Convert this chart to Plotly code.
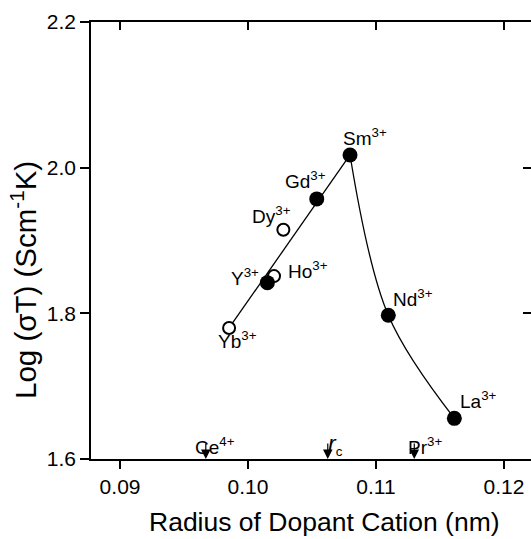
import plotly.graph_objects as go

# ---- data ----
filled_ions = ["Y", "Gd", "Sm", "Nd", "La"]
filled_radius = [0.10151, 0.10537, 0.10797, 0.11096, 0.11612]
filled_logsT = [1.8421, 1.9571, 2.0174, 1.7973, 1.6558]

open_ions = ["Yb", "Ho", "Dy"]
open_radius = [0.09852, 0.10203, 0.10276]
open_logsT = [1.7799, 1.8511, 1.9147]

# straight fit (Yb -> Sm) and curved branch (Sm -> Nd -> La)
line_radius = [0.09852, 0.10797]
line_logsT = [1.7799, 2.0174]
curve_radius = [0.10797, 0.11096, 0.11612]
curve_logsT = [2.0174, 1.7973, 1.6558]

# reference radii marked by arrows on the x axis
marker_names = ["Ce<sup>4+</sup>",
                "<i><span style='font-size:23px'>r</span></i><sub>c</sub>",
                "Pr<sup>3+</sup>"]
marker_radius = [0.0967, 0.10623, 0.11299]

x_tickvals = [0.09, 0.10, 0.11, 0.12]
x_ticktext = ["0.09", "0.10", "0.11", "0.12"]
y_tickvals = [1.6, 1.8, 2.0, 2.2]
y_ticktext = ["1.6", "1.8", "2.0", "2.2"]

x_range = [0.08773, 0.12211]
y_range = [1.6, 2.2]

FONT = "Arial, Liberation Sans, Helvetica, sans-serif"

fig = go.Figure()

fig.add_trace(go.Scatter(x=line_radius, y=line_logsT, mode="lines",
                         line=dict(color="black", width=1.3), hoverinfo="skip",
                         showlegend=False))
fig.add_trace(go.Scatter(x=curve_radius, y=curve_logsT, mode="lines",
                         line=dict(color="black", width=1.3, shape="spline", smoothing=1.0),
                         hoverinfo="skip", showlegend=False))
fig.add_trace(go.Scatter(x=open_radius, y=open_logsT, mode="markers",
                         marker=dict(size=12, color="white", line=dict(color="black", width=2)),
                         showlegend=False))
fig.add_trace(go.Scatter(x=filled_radius, y=filled_logsT, mode="markers",
                         marker=dict(size=15, color="black", line=dict(color="black", width=0)),
                         showlegend=False))
# dummy trace for overlay axes (top / right ticks)
fig.add_trace(go.Scatter(x=[None], y=[None], xaxis="x2", yaxis="y2", mode="lines",
                         showlegend=False, hoverinfo="skip"))

# point labels: (xanchor, xshift, yshift)
label_style = {
    "Sm": ("left", -9, 18),
    "Gd": ("right", 11, 19),
    "Dy": ("right", 10, 15),
    "Ho": ("left", 12, 6),
    "Y": ("right", -6, 6),
    "Yb": ("center", 8, -12),
    "Nd": ("left", 3, 17),
    "La": ("left", 4, 18),
}
all_ions = filled_ions + open_ions
all_r = filled_radius + open_radius
all_v = filled_logsT + open_logsT
annotations = []
for ion, r, v in zip(all_ions, all_r, all_v):
    xa, xs, ys = label_style[ion]
    annotations.append(dict(x=r, y=v, xref="x", yref="y", text=f"{ion}<sup>3+</sup>",
                            showarrow=False, xanchor=xa, yanchor="middle",
                            xshift=xs, yshift=ys,
                            font=dict(family=FONT, size=19, color="black")))

# arrows on the x axis
arrow_text_style = [(-13, 13), (-2, 14), (-8, 13)]
for name, r, (xs, ys) in zip(marker_names, marker_radius, arrow_text_style):
    annotations.append(dict(x=r, y=y_range[0], xref="x", yref="y", text="",
                            showarrow=True, ax=0, ay=-17, arrowhead=2, arrowsize=1.6,
                            arrowwidth=1.2, arrowcolor="black", standoff=0))
    annotations.append(dict(x=r, y=y_range[0], xref="x", yref="y", text=name,
                            showarrow=False, xanchor="left", yanchor="middle",
                            xshift=xs, yshift=ys,
                            font=dict(family=FONT, size=19, color="black")))

# axis titles
annotations.append(dict(x=(324 - 91) / 440, y=(459 - 522) / 437, xref="paper", yref="paper",
                        text="Radius of Dopant Cation (nm)", showarrow=False,
                        xanchor="center", yanchor="middle",
                        font=dict(family=FONT, size=26.5, color="black")))
annotations.append(dict(x=(23 - 91) / 440, y=(459 - 280) / 437, xref="paper", yref="paper",
                        text="Log (σT) (Scm<sup>-1</sup>K)", showarrow=False, textangle=-90,
                        xanchor="center", yanchor="middle",
                        font=dict(family=FONT, size=29.5, color="black")))

axis_common = dict(showgrid=False, zeroline=False, linecolor="black", linewidth=1.5,
                   tickcolor="black", tickwidth=1.5)

fig.update_layout(
    width=531, height=539, autosize=False,
    margin=dict(l=91, r=0, t=22, b=80),
    paper_bgcolor="white", plot_bgcolor="white",
    font=dict(family=FONT, color="black"),
    xaxis=dict(range=x_range, tickvals=x_tickvals, ticktext=x_ticktext,
               ticks="outside", ticklen=8, showline=True,
               tickfont=dict(family=FONT, size=21), **axis_common),
    yaxis=dict(range=y_range, tickvals=y_tickvals, ticktext=y_ticktext,
               ticks="outside", ticklen=9, showline=True,
               tickfont=dict(family=FONT, size=21), **axis_common),
    xaxis2=dict(range=x_range, overlaying="x", side="top", tickvals=x_tickvals,
                ticks="inside", ticklen=8, showline=True, showticklabels=False,
                **axis_common),
    yaxis2=dict(range=y_range, overlaying="y", side="right", tickvals=[1.8, 2.0],
                ticks="inside", ticklen=8, showline=False, showticklabels=False,
                **axis_common),
    annotations=annotations,
)

fig.write_html("out.html", config={"displayModeBar": False},
               post_script="document.body.style.margin='0';document.body.style.overflow='hidden';")
